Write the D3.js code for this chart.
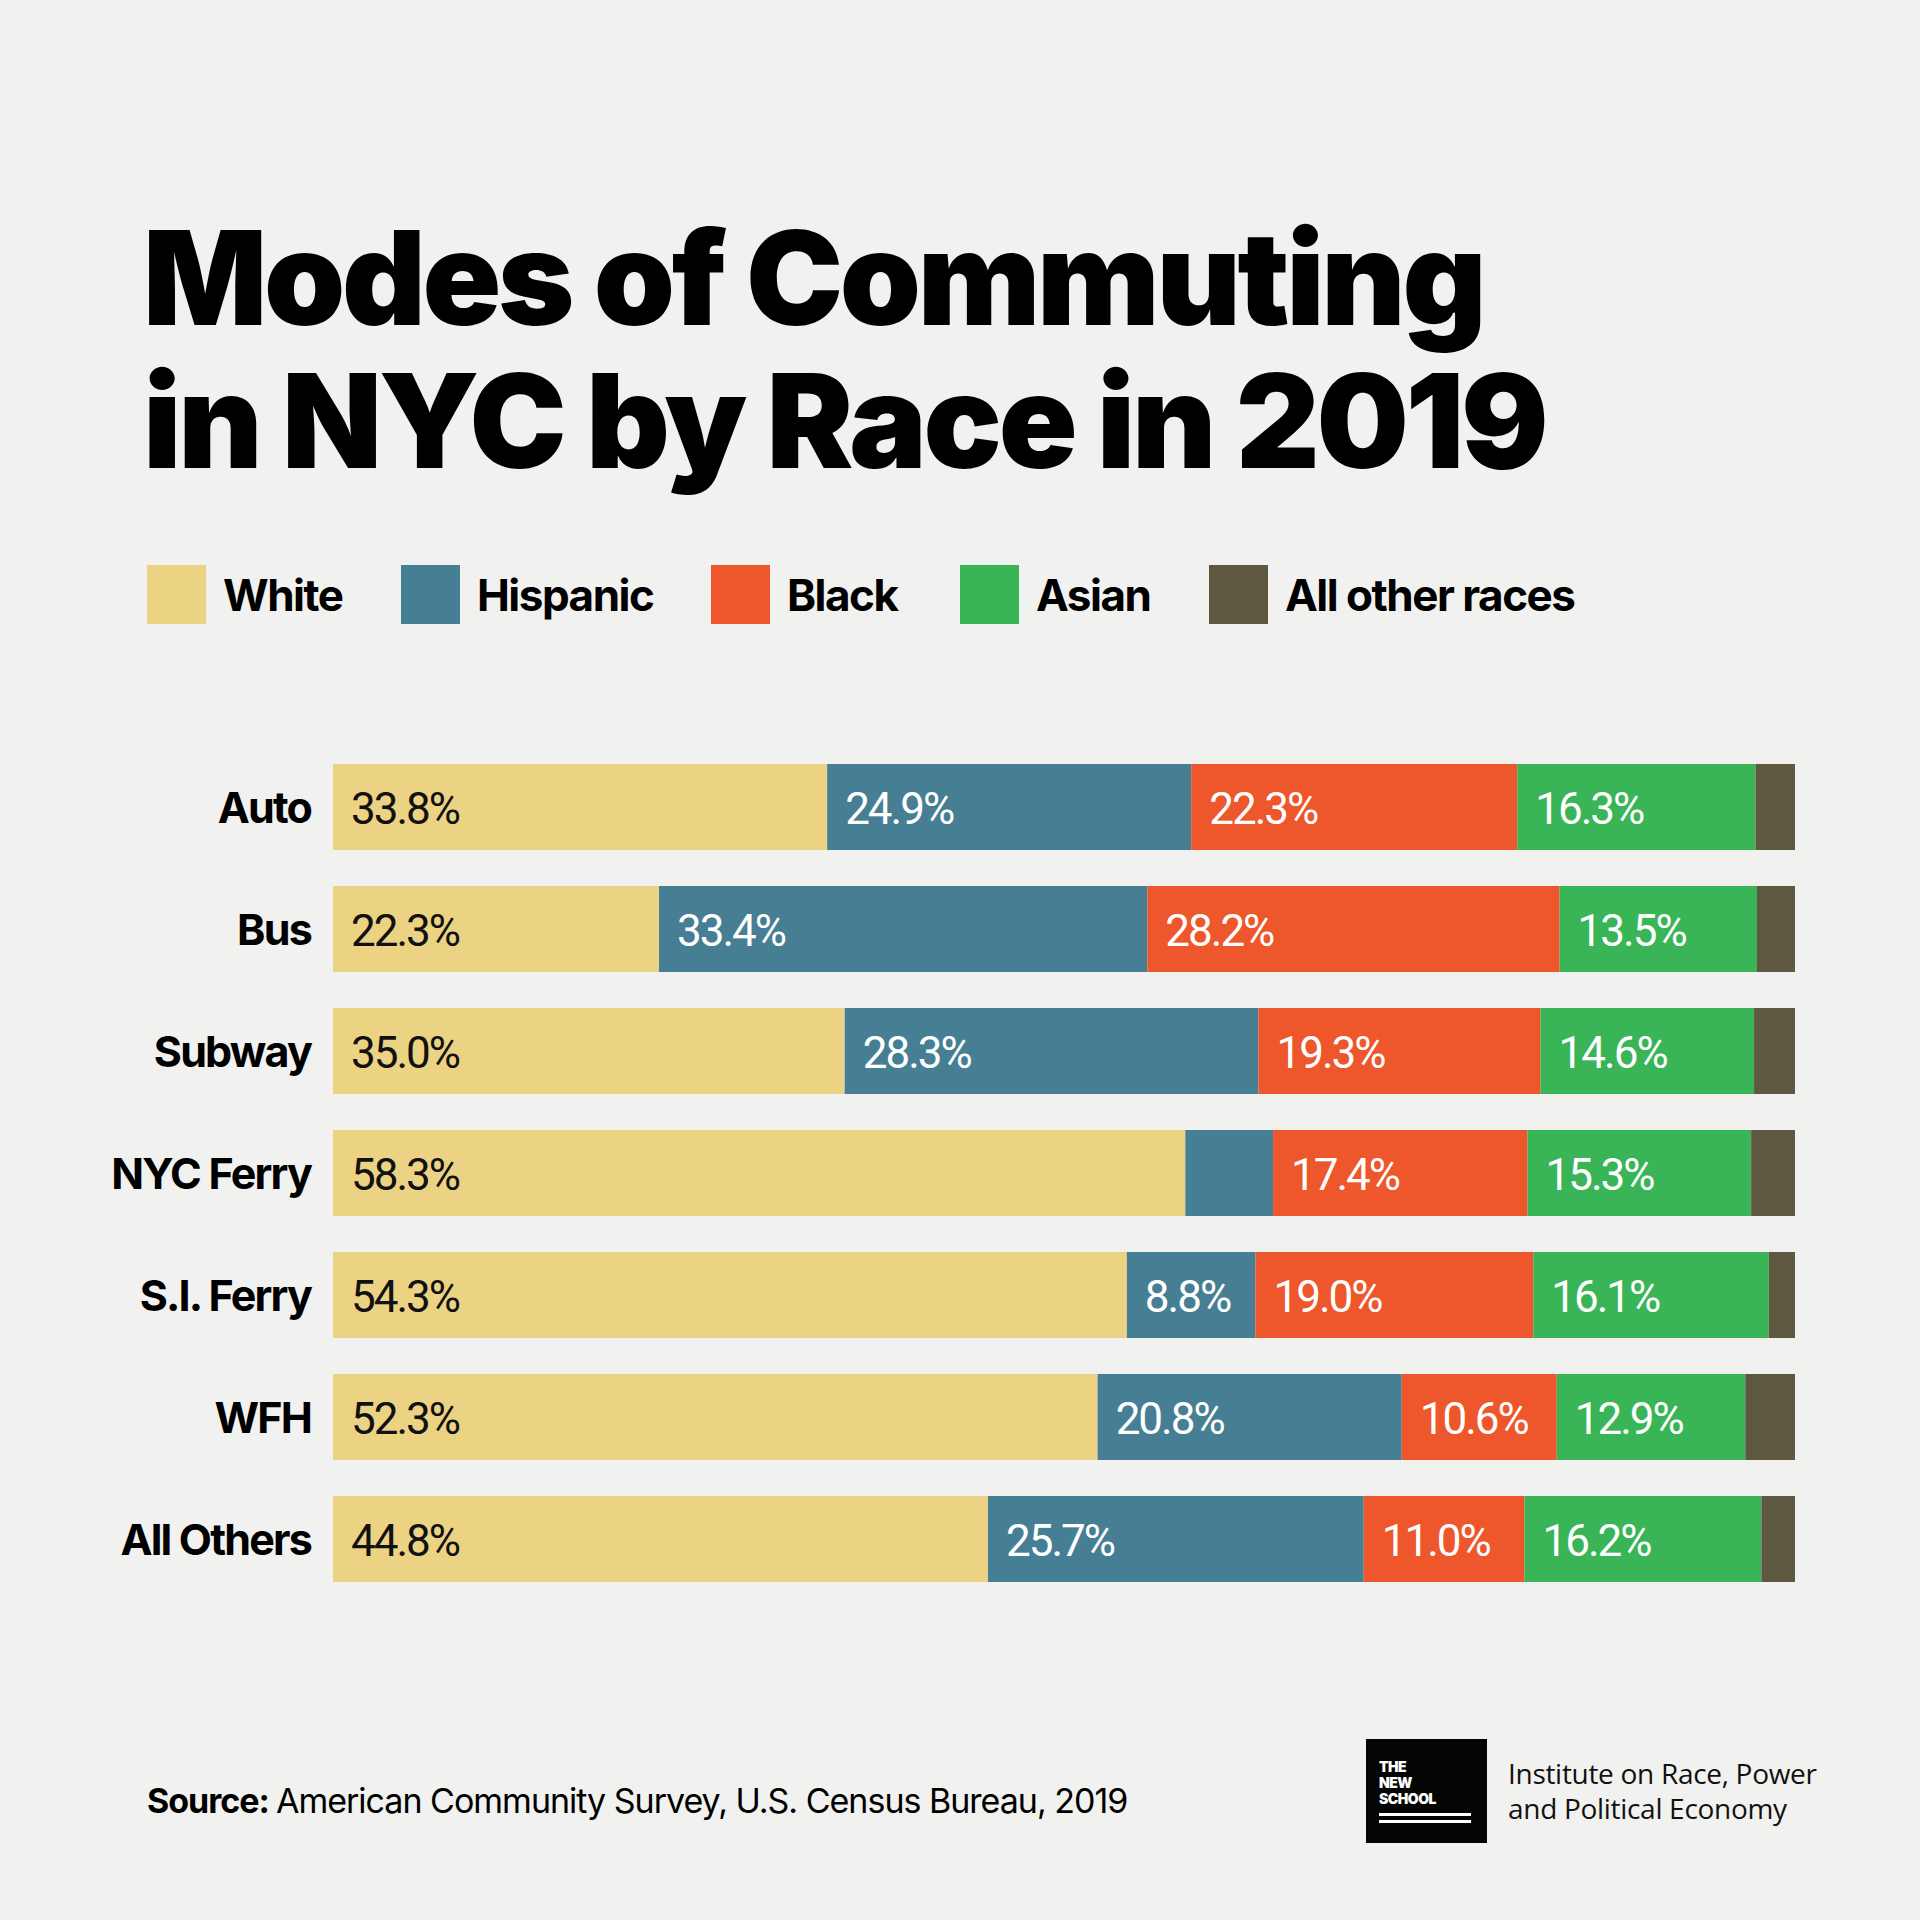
<!DOCTYPE html>
<html><head><meta charset="utf-8">
<script src="https://cdn.jsdelivr.net/npm/d3@7"></script>
<style>body{margin:0;background:#f1f1ef}</style>
</head><body>
<script>
// data
const modes = ["Auto", "Bus", "Subway", "NYC Ferry", "S.I. Ferry", "WFH", "All Others"];
const races = ["White", "Hispanic", "Black", "Asian", "All other races"];
const white    = [33.8, 22.3, 35.0, 58.3, 54.3, 52.3, 44.8];
const hispanic = [24.9, 33.4, 28.3, 6.0, 8.8, 20.8, 25.7];
const black    = [22.3, 28.2, 19.3, 17.4, 19.0, 10.6, 11.0];
const asian    = [16.3, 13.5, 14.6, 15.3, 16.1, 12.9, 16.2];
const other    = [2.7, 2.6, 2.8, 3.0, 1.8, 3.4, 2.3];
const showLabel = [true, true, true, true, false]; // last series has no text
const colors = ["#ecd283", "#467f93", "#ee562b", "#39b558", "#5e5841"];

const W = 1920, H = 1920;
const svg = d3.select("body").append("svg").attr("width", W).attr("height", H);
svg.append("rect").attr("width", W).attr("height", H).attr("fill", "#f1f1ef");

// title
const title = svg.append("g").attr("font-family", "Inter, sans-serif").attr("font-weight", 900)
  .attr("font-size", 130).attr("letter-spacing", -3.3).attr("fill", "#000");
title.append("text").attr("x", 143).attr("y", 325).text("Modes of Commuting");
title.append("text").attr("x", 143).attr("y", 468).text("in NYC by Race in 2019");

// legend
const legX = [147, 401, 711, 960, 1209];
const leg = svg.append("g").attr("font-family", "Inter, sans-serif").attr("font-weight", 700).attr("font-size", 44).attr("letter-spacing", -1.5);
races.forEach((r, i) => {
  leg.append("rect").attr("x", legX[i]).attr("y", 565).attr("width", 59).attr("height", 59).attr("fill", colors[i]);
  leg.append("text").attr("x", legX[i] + 76).attr("y", 611).text(r);
});

// chart
const rows = modes.map((m, i) => ({mode: m, values: [white[i], hispanic[i], black[i], asian[i], other[i]]}));
const x = d3.scaleLinear().domain([0, 100]).range([333, 1795]);
const y = d3.scaleBand().domain(modes).range([764, 1582]).paddingInner(0.295).paddingOuter(0);

rows.forEach(r => {
  let acc = 0;
  const g = svg.append("g");
  r.values.forEach((v, j) => {
    const x0 = x(acc), x1 = j === 4 ? x(100) : x(acc + v);
    g.append("rect").attr("x", x0).attr("y", y(r.mode)).attr("width", x1 - x0).attr("height", y.bandwidth()).attr("fill", colors[j]);
    if (showLabel[j] && v >= 8) {
      g.append("text").attr("x", x0 + 18).attr("y", y(r.mode) + y.bandwidth() / 2 + 17)
        .attr("font-family", "Roboto, sans-serif").attr("font-size", 44).attr("letter-spacing", -2)
        .attr("fill", j === 0 ? "#111" : "#fff").text(v.toFixed(1) + "%");
    }
    acc += v;
  });
  svg.append("text").attr("x", 311).attr("y", y(r.mode) + y.bandwidth() / 2 + 16)
    .attr("text-anchor", "end").attr("font-family", "Inter, sans-serif").attr("font-weight", 700)
    .attr("font-size", 43).attr("letter-spacing", -1.8).text(r.mode);
});

// source
const src = svg.append("text").attr("x", 147).attr("y", 1813).attr("font-family", "Inter, sans-serif").attr("font-size", 34).attr("letter-spacing", -1);
src.append("tspan").attr("font-weight", 700).text("Source: ");
src.append("tspan").text("American Community Survey, U.S. Census Bureau, 2019");

// logo
svg.append("rect").attr("x", 1366).attr("y", 1739).attr("width", 121).attr("height", 104).attr("fill", "#050505");
const lg = svg.append("g").attr("font-family", "Inter, sans-serif").attr("font-weight", 900).attr("font-size", 14).attr("fill", "#fff").attr("letter-spacing", -0.5);
["THE", "NEW", "SCHOOL"].forEach((t, i) => lg.append("text").attr("x", 1379).attr("y", 1772 + i * 16).text(t));
[1813, 1820].forEach(yy => svg.append("rect").attr("x", 1379).attr("y", yy).attr("width", 92).attr("height", 3).attr("fill", "#fff"));
const inst = svg.append("g").attr("font-family", "'Open Sans', sans-serif").attr("font-size", 28).attr("fill", "#111").attr("letter-spacing", -0.3);
inst.append("text").attr("x", 1508).attr("y", 1784).text("Institute on Race, Power");
inst.append("text").attr("x", 1508).attr("y", 1819).text("and Political Economy");
</script>
</body></html>
